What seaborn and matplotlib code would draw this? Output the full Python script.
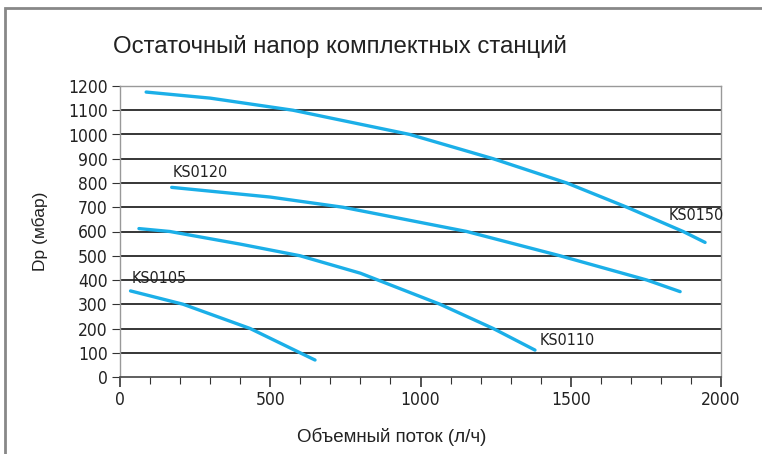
import matplotlib
matplotlib.use("Agg")
import matplotlib.pyplot as plt
import seaborn as sns
import pandas as pd
from matplotlib.patches import Rectangle
from matplotlib.ticker import MultipleLocator

# curves: flow (l/h) vs residual head (mbar)
ks0105_x = [35, 210, 433, 599, 649]
ks0105_y = [355, 300, 200, 100, 70]
ks0110_x = [63, 166, 400, 599, 800, 1065, 1242, 1381]
ks0110_y = [612, 600, 548, 500, 428, 300, 200, 111]
ks0120_x = [172, 500, 742, 1154, 1464, 1753, 1864]
ks0120_y = [782, 742, 700, 600, 500, 400, 352]
ks0150_x = [87, 300, 576, 965, 1242, 1487, 1687, 1874, 1947]
ks0150_y = [1175, 1150, 1100, 1000, 900, 800, 700, 600, 555]

series = {"KS0105": (ks0105_x, ks0105_y), "KS0110": (ks0110_x, ks0110_y),
          "KS0120": (ks0120_x, ks0120_y), "KS0150": (ks0150_x, ks0150_y)}

# label positions (x, y) in data units
label_pos = {"KS0105": (40, 405), "KS0110": (1395, 150),
             "KS0120": (175, 845), "KS0150": (1825, 668)}

title = "Остаточный напор комплектных станций"
x_label = "Объемный поток (л/ч)"
y_label = "Dp (мбар)"

df = pd.concat([pd.DataFrame({"flow": xs, "dp": ys, "model": name})
                for name, (xs, ys) in series.items()], ignore_index=True)

sns.set_style("white")
plt.rcParams['font.family'] = ['Liberation Sans', 'DejaVu Sans']
line_color = "#1BAFE8"
narrow = dict(family="DejaVu Sans", stretch="condensed")

fig = plt.figure(figsize=(7.62, 4.54), dpi=100)
ax = fig.add_axes([120 / 762, 1 - 377 / 454, 601 / 762, 291 / 454])

# frame around figure (top and left visible)
fig.patches.append(Rectangle((5 / 762, -0.1), 1.2, 1 - 8 / 454 + 0.1,
                             transform=fig.transFigure, fill=False,
                             edgecolor="#888888", linewidth=2.0))

for y in range(100, 1200, 100):
    ax.axhline(y, color="black", linewidth=1.1, zorder=1)

sns.lineplot(data=df, x="flow", y="dp", hue="model", units="model",
             estimator=None, sort=True, palette=[line_color] * 4,
             linewidth=2.4, legend=False, ax=ax, zorder=3)

for name, (lx, ly) in label_pos.items():
    ax.text(lx, ly, name, fontsize=11.5, color="#222222",
            ha="left", va="center", zorder=4, **narrow)

ax.set_xlim(0, 2000)
ax.set_ylim(0, 1200)
ax.xaxis.set_major_locator(MultipleLocator(500))
ax.xaxis.set_minor_locator(MultipleLocator(100))
ax.yaxis.set_major_locator(MultipleLocator(100))
ax.tick_params(axis="x", which="major", length=7, width=1.2, color="#333333",
               direction="out", bottom=True, pad=3)
ax.tick_params(axis="x", which="minor", length=5, width=0.8, color="#333333",
               direction="out", bottom=True)
ax.tick_params(axis="y", length=6, width=0.8, color="#333333",
               direction="out", left=True, pad=3)
for lab in ax.get_xticklabels() + ax.get_yticklabels():
    lab.set_family(narrow["family"])
    lab.set_stretch(narrow["stretch"])
    lab.set_fontsize(12.5)
    lab.set_color("#222222")

for side in ["left", "top", "right"]:
    ax.spines[side].set_color("#999999")
    ax.spines[side].set_linewidth(1.0)
ax.spines["bottom"].set_color("#444444")
ax.spines["bottom"].set_linewidth(1.2)

ax.set_xlabel(x_label, fontsize=13.5, color="#222222")
ax.xaxis.set_label_coords((392 - 120) / 601, (377 - 437) / 291)
ax.xaxis.label.set_va("center")
ax.set_ylabel(y_label, fontsize=12.5, color="#222222")
ax.yaxis.set_label_coords((40 - 120) / 601, 0.5)
ax.yaxis.label.set_va("center")
fig.text(113 / 762, 1 - 46 / 454, title, fontsize=17.3, color="#222222",
         ha="left", va="center")

fig.savefig("out.png", dpi=100)
